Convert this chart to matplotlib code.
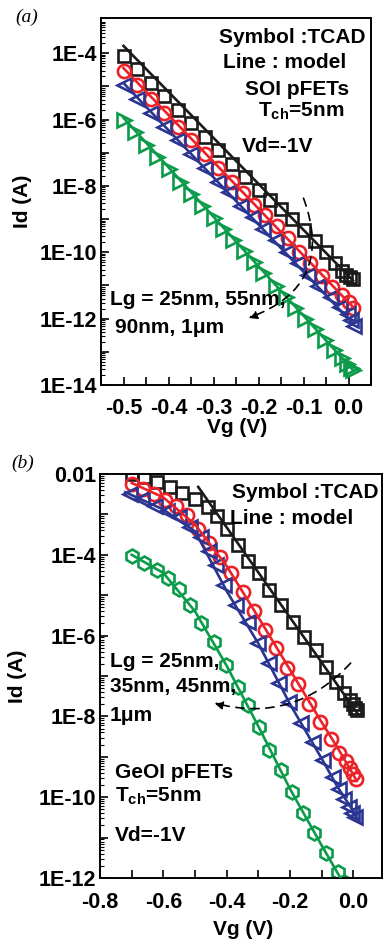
import numpy as np
import matplotlib.pyplot as plt
from matplotlib.ticker import FixedLocator, LogLocator, NullFormatter, FixedFormatter, MultipleLocator

plt.rcParams["font.family"] = "Liberation Sans"
plt.rcParams["font.weight"] = "bold"
plt.rcParams["mathtext.fontset"] = "custom"
plt.rcParams["mathtext.rm"] = "Liberation Sans:bold"
plt.rcParams["mathtext.bf"] = "Liberation Sans:bold"
plt.rcParams["mathtext.it"] = "Liberation Sans:bold"

# ---- panel (a): SOI pFETs, TCAD symbols (log10 of Id) ----
vg_a_black = [-0.5, -0.47, -0.44, -0.41, -0.38, -0.35, -0.32, -0.29, -0.26, -0.23, -0.20,
              -0.175, -0.15, -0.125, -0.10, -0.075, -0.05, -0.03, -0.015, -0.005, 0.004, 0.011]
lg_a_black = [-4.09, -4.49, -4.90, -5.30, -5.71, -6.11, -6.52, -6.92, -7.33, -7.73, -8.12,
              -8.42, -8.70, -8.99, -9.32, -9.65, -10.00, -10.32, -10.55, -10.68, -10.75, -10.80]

vg_a_red = [-0.5, -0.47, -0.44, -0.41, -0.38, -0.35, -0.32, -0.29, -0.26, -0.235, -0.21,
            -0.185, -0.16, -0.135, -0.11, -0.085, -0.06, -0.036, -0.015, 0.0, 0.009]
lg_a_red = [-4.54, -4.96, -5.38, -5.80, -6.21, -6.62, -7.04, -7.46, -7.88, -8.22, -8.57,
            -8.89, -9.22, -9.56, -9.98, -10.33, -10.72, -11.05, -11.30, -11.50, -11.68]

vg_a_blue = [-0.5, -0.47, -0.44, -0.41, -0.38, -0.35, -0.32, -0.29, -0.265, -0.24, -0.213,
             -0.189, -0.162, -0.136, -0.113, -0.089, -0.067, -0.04, -0.018, -0.002, 0.006, 0.012]
lg_a_blue = [-4.96, -5.38, -5.80, -6.22, -6.63, -7.05, -7.47, -7.89, -8.18, -8.60, -8.94,
             -9.30, -9.63, -9.99, -10.33, -10.69, -11.02, -11.35, -11.65, -11.85, -12.05, -12.22]

vg_a_green = [-0.5, -0.475, -0.45, -0.425, -0.40, -0.375, -0.35, -0.325, -0.30, -0.278, -0.256,
              -0.233, -0.211, -0.189, -0.162, -0.14, -0.118, -0.096, -0.074, -0.052, -0.032,
              -0.015, -0.004, 0.005, 0.011]
lg_a_green = [-6.02, -6.39, -6.76, -7.13, -7.50, -7.87, -8.24, -8.61, -8.98, -9.30, -9.63,
              -9.95, -10.30, -10.63, -11.03, -11.36, -11.68, -12.00, -12.32, -12.65, -12.95,
              -13.20, -13.38, -13.48, -13.55]

# model lines (a)
mvg_a = [-0.5, 0.01]
mlg_a_black = [-3.78, -10.85]
mlg_a_red = [-4.45, -11.65]
mlg_a_blue = [-4.90, -12.15]
mlg_a_green = [-5.95, -13.55]

# ---- panel (b): GeOI pFETs ----
vg_b_black = [-0.70, -0.66, -0.62, -0.58, -0.54, -0.50, -0.46, -0.43, -0.40, -0.365, -0.332,
              -0.298, -0.266, -0.229, -0.191, -0.157, -0.119, -0.088, -0.056, -0.031, -0.012,
              0.0, 0.006, 0.012]
lg_b_black = [-2.00, -2.08, -2.20, -2.33, -2.47, -2.62, -2.82, -3.05, -3.35, -3.75, -4.15,
              -4.45, -4.87, -5.24, -5.66, -6.03, -6.36, -6.78, -7.15, -7.42, -7.60,
              -7.70, -7.78, -7.85]

vg_b_red = [-0.70, -0.665, -0.63, -0.595, -0.56, -0.525, -0.49, -0.455, -0.42, -0.385, -0.35,
            -0.315, -0.28, -0.245, -0.21, -0.175, -0.14, -0.105, -0.07, -0.045, -0.025, -0.01,
            0.0, 0.008]
lg_b_red = [-2.25, -2.36, -2.50, -2.64, -2.80, -3.02, -3.35, -3.70, -4.05, -4.45, -4.92,
            -5.38, -5.85, -6.30, -6.80, -7.20, -7.70, -8.13, -8.55, -8.90, -9.10, -9.28,
            -9.42, -9.55]

vg_b_blue = [-0.705, -0.668, -0.627, -0.589, -0.552, -0.517, -0.48, -0.455, -0.435, -0.408,
             -0.37, -0.332, -0.301, -0.266, -0.235, -0.204, -0.166, -0.129, -0.097, -0.066,
             -0.047, -0.03, -0.015, -0.005, 0.005]
lg_b_blue = [-2.50, -2.62, -2.79, -2.92, -3.06, -3.31, -3.56, -3.90, -4.25, -4.75,
             -5.24, -5.66, -6.18, -6.68, -7.17, -7.64, -8.16, -8.63, -9.08, -9.50,
             -9.80, -10.05, -10.25, -10.40, -10.50]

vg_b_green = [-0.70, -0.66, -0.62, -0.585, -0.55, -0.515, -0.48, -0.44, -0.401, -0.364, -0.332,
              -0.298, -0.266, -0.229, -0.195, -0.160, -0.125, -0.088, -0.050, -0.03]
lg_b_green = [-4.02, -4.20, -4.38, -4.58, -4.85, -5.25, -5.68, -6.15, -6.73, -7.27, -7.72,
              -8.26, -8.83, -9.33, -9.86, -10.39, -10.89, -11.38, -11.85, -12.1]

# model lines (b)
mvg_b_black = [-0.49, 0.012]
mlg_b_black = [-2.32, -7.92]
mvg_b_red = [-0.70, -0.60, -0.50, -0.40, -0.30, -0.20, -0.10, -0.05, 0.0, 0.01]
mlg_b_red = [-2.22, -2.58, -3.25, -4.28, -5.55, -6.85, -8.15, -8.78, -9.45, -9.60]
mvg_b_blue = [-0.72, -0.60, -0.50, -0.40, -0.30, -0.20, -0.10, -0.05, 0.0, 0.01]
mlg_b_blue = [-2.45, -2.88, -3.42, -4.90, -6.20, -7.70, -9.05, -9.75, -10.35, -10.50]
mvg_b_green = [-0.70, -0.60, -0.50, -0.40, -0.30, -0.20, -0.10, -0.03]
mlg_b_green = [-4.00, -4.45, -5.40, -6.75, -8.25, -9.80, -11.20, -12.15]

BLACK = '#1a1a1a'
RED = '#ec2229'
BLUE = '#2b3592'
GREEN = '#0c9b4a'

fig = plt.figure(figsize=(3.84, 9.46), dpi=100)
ax1 = fig.add_axes([101 / 384, 1 - 385 / 946, 270 / 384, 367 / 946])
ax2 = fig.add_axes([100 / 384, 1 - 878 / 946, 282 / 384, 404 / 946])


def sym(ax, v, lg, marker, color, ms):
    ax.plot(v, 10.0 ** np.array(lg), linestyle='none', marker=marker, mfc='none',
            mec=color, ms=ms, mew=1.9, zorder=2)


def model(ax, v, lg, color):
    ax.plot(v, 10.0 ** np.array(lg), color=color, lw=1.9, zorder=3)


# panel (a)
sym(ax1, vg_a_black, lg_a_black, 's', BLACK, 9)
sym(ax1, vg_a_red, lg_a_red, 'o', RED, 9.5)
sym(ax1, vg_a_blue, lg_a_blue, '<', BLUE, 10.5)
sym(ax1, vg_a_green, lg_a_green, '>', GREEN, 10.5)
model(ax1, mvg_a, mlg_a_black, BLACK)
model(ax1, mvg_a, mlg_a_red, RED)
model(ax1, mvg_a, mlg_a_blue, BLUE)
model(ax1, mvg_a, mlg_a_green, GREEN)

# panel (b)
sym(ax2, vg_b_black, lg_b_black, 's', BLACK, 8.5)
sym(ax2, vg_b_red, lg_b_red, 'o', RED, 9.5)
sym(ax2, vg_b_blue, lg_b_blue, '<', BLUE, 10.5)
sym(ax2, vg_b_green, lg_b_green, 'h', GREEN, 10)
model(ax2, mvg_b_black, mlg_b_black, BLACK)
model(ax2, mvg_b_red, mlg_b_red, RED)
model(ax2, mvg_b_blue, mlg_b_blue, BLUE)
model(ax2, mvg_b_green, mlg_b_green, GREEN)

fs_tick = 15.5
fs_txt = 15

for ax in (ax1, ax2):
    ax.set_yscale('log')
    for s in ax.spines.values():
        s.set_linewidth(1.4)
    ax.tick_params(axis='both', which='both', direction='in', top=False, right=False,
                   labelsize=fs_tick)
    ax.tick_params(axis='y', which='major', length=6, width=1.2, pad=3)
    ax.tick_params(axis='y', which='minor', length=3, width=0.8)
    ax.tick_params(axis='x', which='both', length=6, width=1.2)
    ax.yaxis.set_minor_locator(LogLocator(base=10, subs=np.arange(2, 10), numticks=30))
    ax.yaxis.set_minor_formatter(NullFormatter())

# axis (a)
ax1.set_xlim(-0.55, 0.05)
ax1.set_ylim(1e-14, 1.15e-3)
dec_a = [10.0 ** e for e in range(-14, -3)]
ax1.yaxis.set_major_locator(FixedLocator(dec_a))
ax1.yaxis.set_major_formatter(FixedFormatter(
    ['1E-14', '', '1E-12', '', '1E-10', '', '1E-8', '', '1E-6', '', '1E-4']))
ax1.xaxis.set_minor_locator(MultipleLocator(0.05))
ax1.set_xticks([-0.5, -0.4, -0.3, -0.2, -0.1, 0.0])
ax1.set_xticklabels(['-0.5', '-0.4', '-0.3', '-0.2', '-0.1', '0.0'], fontweight='bold')
ax1.tick_params(axis='x', which='major', pad=9)
ax1.set_xlabel('Vg (V)', fontsize=fs_txt, fontweight='bold')
ax1.set_ylabel('Id (A)', fontsize=fs_txt, fontweight='bold')
ax1.xaxis.set_label_coords(0.504, -0.09)
ax1.yaxis.set_label_coords(-0.255, 0.5)

# axis (b)
ax2.set_xlim(-0.8, 0.09)
ax2.set_ylim(1e-12, 1e-2)
dec_b = [10.0 ** e for e in range(-12, -1)]
ax2.yaxis.set_major_locator(FixedLocator(dec_b))
ax2.yaxis.set_major_formatter(FixedFormatter(
    ['1E-12', '', '1E-10', '', '1E-8', '', '1E-6', '', '1E-4', '', '0.01']))
ax2.xaxis.set_minor_locator(MultipleLocator(0.1))
ax2.set_xticks([-0.8, -0.6, -0.4, -0.2, 0.0])
ax2.set_xticklabels(['-0.8', '-0.6', '-0.4', '-0.2', '0.0'], fontweight='bold')
ax2.tick_params(axis='x', which='major', pad=10)
ax2.set_xlabel('Vg (V)', fontsize=fs_txt, fontweight='bold')
ax2.set_ylabel('Id (A)', fontsize=fs_txt, fontweight='bold')
ax2.xaxis.set_label_coords(0.507, -0.105)
ax2.yaxis.set_label_coords(-0.26, 0.5)

for ax in (ax1, ax2):
    for lab in ax.get_yticklabels():
        lab.set_fontweight('bold')

# texts (a)
t = ax1.transAxes
ax1.text(0.978, 0.948, 'Symbol :TCAD', transform=t, ha='right', va='center', fontsize=fs_txt)
ax1.text(0.452, 0.880, 'Line : model', transform=t, ha='left', va='center', fontsize=fs_txt)
ax1.text(0.533, 0.804, 'SOI pFETs', transform=t, ha='left', va='center', fontsize=fs_txt)
ax1.text(0.581, 0.745, r'T$_{\rm ch}$=5nm', transform=t, ha='left', va='center', fontsize=fs_txt)
ax1.text(0.522, 0.649, 'Vd=-1V', transform=t, ha='left', va='center', fontsize=fs_txt)
ax1.text(0.033, 0.232, 'Lg = 25nm, 55nm,', transform=t, ha='left', va='center', fontsize=fs_txt)
ax1.text(0.052, 0.158, '90nm, 1\u03bcm', transform=t, ha='left', va='center', fontsize=fs_txt)
ax1.annotate('', xy=(-0.222, 10 ** -11.98), xytext=(-0.1, 10 ** -8.37),
             arrowprops=dict(arrowstyle='-|>', linestyle=(0, (5, 4)), color='k', lw=1.2,
                             mutation_scale=12, connectionstyle='arc3,rad=-0.5',
                             shrinkA=0, shrinkB=0))

# texts (b)
t = ax2.transAxes
ax2.text(0.986, 0.953, 'Symbol :TCAD', transform=t, ha='right', va='center', fontsize=fs_txt)
ax2.text(0.461, 0.891, 'Line : model', transform=t, ha='left', va='center', fontsize=fs_txt)
ax2.text(0.035, 0.535, 'Lg = 25nm,', transform=t, ha='left', va='center', fontsize=fs_txt)
ax2.text(0.035, 0.473, '35nm, 45nm,', transform=t, ha='left', va='center', fontsize=fs_txt)
ax2.text(0.035, 0.403, '1\u03bcm', transform=t, ha='left', va='center', fontsize=fs_txt)
ax2.text(0.053, 0.262, 'GeOI pFETs', transform=t, ha='left', va='center', fontsize=fs_txt)
ax2.text(0.053, 0.202, r'T$_{\rm ch}$=5nm', transform=t, ha='left', va='center', fontsize=fs_txt)
ax2.text(0.053, 0.106, 'Vd=-1V', transform=t, ha='left', va='center', fontsize=fs_txt)
ax2.annotate('', xy=(-0.439, 10 ** -7.67), xytext=(-0.009, 10 ** -6.68),
             arrowprops=dict(arrowstyle='-|>', linestyle=(0, (5, 4)), color='k', lw=1.2,
                             mutation_scale=12, connectionstyle='arc3,rad=-0.3',
                             shrinkA=0, shrinkB=0))

fig.text(27 / 384, 1 - 17 / 946, '(a)', family='Liberation Serif', style='italic',
         fontweight='normal', fontsize=14, ha='center', va='center')
fig.text(23 / 384, 1 - 463 / 946, '(b)', family='Liberation Serif', style='italic',
         fontweight='normal', fontsize=14, ha='center', va='center')

fig.savefig('out.png', dpi=100)
